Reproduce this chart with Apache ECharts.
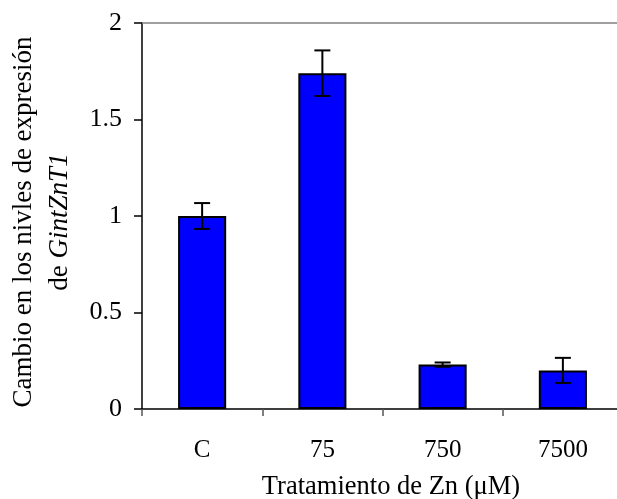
<!DOCTYPE html>
<html>
<head>
<meta charset="utf-8">
<script src="https://cdn.jsdelivr.net/npm/echarts@6/dist/echarts.min.js"></script>
<style>
  html, body { margin: 0; padding: 0; background: #fff; }
  #chart { width: 617px; height: 499px; }
</style>
</head>
<body>
<div id="chart"></div>
<script>
// Zn treatment (uM) and relative expression of GintZnT1
const categories = ["C", "75", "750", "7500"];
const values = [1.0, 1.74, 0.23, 0.2];
const errors = [0.067, 0.118, 0.011, 0.065];
const yTicks = { min: 0, max: 2, interval: 0.5 };

const FONT = "Liberation Serif";

let myChart = echarts.init(document.getElementById("chart"));

// low / high ends of every error bar
const errData = values.map(function(v, i) {
  return [i, v - errors[i], v + errors[i]];
});

myChart.setOption({
  animation: false,
  textStyle: { fontFamily: FONT, color: "#000" },
  grid: { left: 142, right: -6, top: 23, bottom: 90, outerBoundsMode: "none", containLabel: false },
  xAxis: [
    {
      type: "category",
      data: categories,
      position: "bottom",
      axisLine: { lineStyle: { color: "#000", width: 1.5 } },
      axisTick: { show: true, length: 7, lineStyle: { color: "#555", width: 1.5 } },
      axisLabel: { fontFamily: FONT, fontSize: 25, color: "#000", margin: 29 },
      name: "Tratamiento de Zn (μM)",
      nameLocation: "middle",
      nameGap: 65,
      nameTextStyle: { fontFamily: FONT, fontSize: 26.5, color: "#000", padding: [0, 0, 0, 17] }
    },
    {
      // gray frame line along the top of the plot
      type: "category",
      data: categories,
      position: "top",
      axisLine: { lineStyle: { color: "#808080", width: 1.5 } },
      axisTick: { show: false },
      axisLabel: { show: false }
    }
  ],
  yAxis: {
    type: "value",
    min: yTicks.min,
    max: yTicks.max,
    interval: yTicks.interval,
    splitLine: { show: false },
    axisLine: { show: true, lineStyle: { color: "#000", width: 1.5 } },
    axisTick: { show: true, length: 8, lineStyle: { color: "#000", width: 1.5 } },
    axisLabel: { fontFamily: FONT, fontSize: 26, color: "#000", margin: 20 },
    name: "{a|Cambio en los nivles de expresión}\n{a|de }{b|GintZnT1}",
    nameLocation: "middle",
    nameRotate: 90,
    nameGap: 64,
    nameTextStyle: {
      padding: [0, 12, 0, 0],
      rich: {
        a: { fontFamily: FONT, fontSize: 27, color: "#000", lineHeight: 36 },
        b: { fontFamily: FONT, fontSize: 27, color: "#000", lineHeight: 36, fontStyle: "italic" }
      }
    }
  },
  series: [
    {
      type: "bar",
      data: values,
      barWidth: "40%",
      itemStyle: { color: "#0000FF", borderColor: "#000", borderWidth: 2 }
    },
    {
      type: "custom",
      data: errData,
      z: 10,
      renderItem: function(params, api) {
        const lo = api.coord([api.value(0), api.value(1)]);
        const hi = api.coord([api.value(0), api.value(2)]);
        const w = 8;
        const style = { stroke: "#000", lineWidth: 2 };
        return {
          type: "group",
          children: [
            { type: "line", shape: { x1: hi[0], y1: hi[1], x2: lo[0], y2: lo[1] }, style: style },
            { type: "line", shape: { x1: hi[0] - w, y1: hi[1], x2: hi[0] + w, y2: hi[1] }, style: style },
            { type: "line", shape: { x1: lo[0] - w, y1: lo[1], x2: lo[0] + w, y2: lo[1] }, style: style }
          ]
        };
      }
    }
  ]
});
</script>
</body>
</html>
